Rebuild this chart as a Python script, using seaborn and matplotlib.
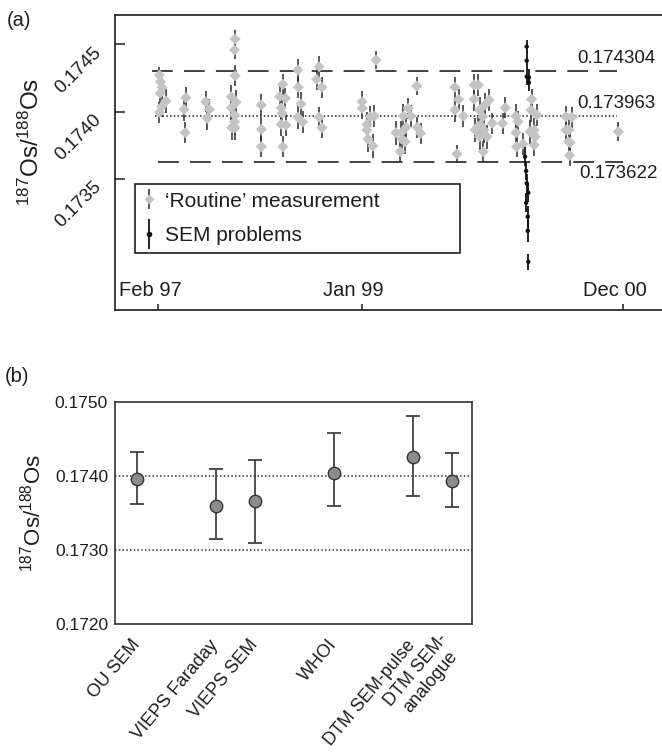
import numpy as np
import pandas as pd
import matplotlib
matplotlib.use("Agg")
import matplotlib.pyplot as plt
import seaborn as sns
from matplotlib.lines import Line2D
from matplotlib.legend_handler import HandlerTuple

# ---------------- Panel (a) data ----------------
routine_x = [8.3, 8.5, 8.8, 8.4, 9.5, 8.7, 8.3,
             13.2, 12.9, 13.1,
             16.9, 17.6, 17.2,
             22.4, 22.3, 22.4, 21.7, 22.6, 21.7, 22.3, 22.3, 21.8, 22.4,
             27.3, 27.3, 27.3,
             31.3, 30.7, 31.8, 31.0, 31.2, 31.0, 31.9, 31.3,
             34.1, 34.2, 34.7, 34.1, 35.0,
             38.1, 37.6, 38.6, 38.1, 38.6,
             48.7, 46.1, 46.1, 47.0, 47.0, 47.2, 48.1, 47.6, 48.4,
             52.4, 53.4, 53.2, 53.5, 53.8, 54.3, 54.7, 55.2, 56.3, 56.4, 57.0, 54.1,
             63.4, 64.1, 63.4, 65.0, 63.8,
             67.0, 67.8, 67.0, 68.0, 67.2, 68.2, 68.6, 69.0, 69.8, 68.8, 69.4, 68.7, 70.4, 68.0, 67.7,
             72.3, 72.8, 74.8, 75.2, 74.8, 74.9, 76.1,
             77.7, 77.6, 77.4, 78.2, 78.7, 78.2, 78.4,
             84.1, 85.2, 84.1, 84.7, 84.9, 84.8, 84.6,
             93.9]
routine_y = [0.174272, 0.174222, 0.174178, 0.174136, 0.174078, 0.174036, 0.173994,
             0.174103, 0.174016, 0.173842,
             0.174073, 0.174016, 0.173949,
             0.174541, 0.174459, 0.174267, 0.174110, 0.174069, 0.174028, 0.173974, 0.173924, 0.173879, 0.173879,
             0.174049, 0.173867, 0.173737,
             0.174203, 0.174110, 0.174099, 0.174028, 0.173987, 0.173904, 0.173899, 0.173737,
             0.174310, 0.174181, 0.174056, 0.173957, 0.173922,
             0.174334, 0.174240, 0.174181, 0.173957, 0.173879,
             0.174384, 0.174073, 0.174024, 0.173904, 0.173862, 0.173795, 0.173743, 0.173961, 0.173966,
             0.173842, 0.173842, 0.173700, 0.173793, 0.173966, 0.173882, 0.174024, 0.173966, 0.174190, 0.173882, 0.173837, 0.173775,
             0.174181, 0.174091, 0.174011, 0.173966, 0.173683,
             0.174198, 0.174198, 0.174091, 0.174011, 0.173862, 0.173899, 0.173961, 0.174049, 0.174086, 0.173862, 0.173812, 0.173700, 0.173912, 0.173812, 0.173887,
             0.173912, 0.174028, 0.173966, 0.173924, 0.173842, 0.173737, 0.173757,
             0.174091, 0.174011, 0.173849, 0.173862, 0.173974, 0.173750, 0.173812,
             0.173961, 0.173957, 0.173862, 0.173862, 0.173767, 0.173673, 0.173775,
             0.173849]
routine_err = [0.00006, 0.00007, 0.00007, 0.00008, 0.00009, 0.00008, 0.00008,
               0.00008, 0.00009, 0.00008,
               0.00008, 0.00008, 0.00009,
               0.00007, 0.00007, 0.00008, 0.00009, 0.00009, 0.00009, 0.00010, 0.00010, 0.00009, 0.00009,
               0.00008, 0.00009, 0.00008,
               0.00008, 0.00009, 0.00008, 0.00010, 0.00009, 0.00009, 0.00008, 0.00008,
               0.00008, 0.00008, 0.00009, 0.00009, 0.00008,
               0.00008, 0.00008, 0.00008, 0.00008, 0.00008,
               0.00007, 0.00008, 0.00008, 0.00009, 0.00009, 0.00010, 0.00009, 0.00008, 0.00008,
               0.00009, 0.00009, 0.00008, 0.00010, 0.00009, 0.00009, 0.00008, 0.00008, 0.00007, 0.00008, 0.00008, 0.00009,
               0.00008, 0.00008, 0.00009, 0.00008, 0.00007,
               0.00008, 0.00008, 0.00009, 0.00010, 0.00009, 0.00009, 0.00010, 0.00009, 0.00008, 0.00010, 0.00009, 0.00008, 0.00008, 0.00010, 0.00009,
               0.00008, 0.00008, 0.00009, 0.00008, 0.00009, 0.00008, 0.00008,
               0.00008, 0.00009, 0.00009, 0.00009, 0.00008, 0.00008, 0.00009,
               0.00008, 0.00008, 0.00009, 0.00009, 0.00009, 0.00008, 0.00009,
               0.00007]
sem_x = [76.8, 76.8, 76.8, 77.2, 77.2, 76.5, 76.7, 76.8, 77.1, 76.7, 77.0, 77.0, 77.1]
sem_y = [0.174484, 0.174379, 0.174260, 0.174255, 0.174215, 0.173663, 0.173556,
         0.173464, 0.173394, 0.173319, 0.173215, 0.173110, 0.172879]
sem_err = [0.00005, 0.00007, 0.00006, 0.00006, 0.00006, 0.00007, 0.00007,
           0.00007, 0.00007, 0.00007, 0.00008, 0.00008, 0.00006]

ref_values = [0.174304, 0.173963, 0.173622]
ref_labels = ["0.174304", "0.173963", "0.173622"]
date_ticks = [8.08, 46.03, 94.72]
date_labels = ["Feb 97", "Jan 99", "Dec 00"]
a_yticks = [0.1745, 0.1740, 0.1735]
a_yticklabels = ["0.1745", "0.1740", "0.1735"]

# ---------------- Panel (b) data ----------------
labs = ["OU SEM", "VIEPS Faraday", "VIEPS SEM", "WHOI", "DTM SEM-pulse", "DTM SEM-\nanalogue"]
lab_vals = [0.173964, 0.173600, 0.173668, 0.174046, 0.174253, 0.173932]
lab_err_lo = [0.000347, 0.000455, 0.000573, 0.000455, 0.000523, 0.000346]
lab_err_hi = [0.000359, 0.000500, 0.000554, 0.000540, 0.000558, 0.000384]
b_yticks = [0.1720, 0.1730, 0.1740, 0.1750]
b_yticklabels = ["0.1720", "0.1730", "0.1740", "0.1750"]
b_guides = [0.1740, 0.1730]

# layout
lab_pos = [1, 3, 4, 6, 8, 9]

sns.set_theme(style="white")
plt.rcParams["font.family"] = ["Liberation Sans", "DejaVu Sans"]
plt.rcParams["mathtext.default"] = "regular"
plt.rcParams["lines.scale_dashes"] = False

W, H = 662, 755
fig = plt.figure(figsize=(W / 100, H / 100), dpi=100)
ax1 = fig.add_axes([115 / W, 1 - 310 / H, 550 / W, 295 / H])
ax2 = fig.add_axes([115 / W, 1 - 624 / H, 357 / W, 222 / H])

ink = "#1e1e1e"

# ---------- Panel (a) ----------
df_r = pd.DataFrame({"x": routine_x, "y": routine_y, "e": routine_err})
df_s = pd.DataFrame({"x": sem_x, "y": sem_y, "e": sem_err})

ax1.errorbar(df_r["x"], df_r["y"], yerr=df_r["e"], fmt="none", ecolor="#2a2a2a",
             elinewidth=1.1, zorder=2)
sns.scatterplot(data=df_r, x="x", y="y", ax=ax1, marker="D", s=32, color="#c4c4c4",
                edgecolor="none", linewidth=0, zorder=3, legend=False)
ax1.errorbar(df_s["x"], df_s["y"], yerr=df_s["e"], fmt="none", ecolor="#111111",
             elinewidth=1.3, zorder=4)
sns.scatterplot(data=df_s, x="x", y="y", ax=ax1, marker="o", s=10, color="#111111",
                edgecolor="none", linewidth=0, zorder=5, legend=False)

ax1.plot([6.9, 93.7], [ref_values[0]] * 2, color="#333333", lw=1.3, dashes=(15, 8), zorder=1)
ax1.plot([7.5, 93.7], [ref_values[1]] * 2, color="#333333", lw=1.2, dashes=(1.1, 1.6), zorder=1)
ax1.plot([8.0, 94.8], [ref_values[2]] * 2, color="#333333", lw=1.3, dashes=(15, 8), zorder=1)

ax1.annotate(ref_labels[0], xy=(86.2, ref_values[0]), xytext=(0, 3), textcoords="offset points",
             ha="left", va="bottom", fontsize=13.5, color=ink)
ax1.annotate(ref_labels[1], xy=(86.2, ref_values[1]), xytext=(0, 3), textcoords="offset points",
             ha="left", va="bottom", fontsize=13.5, color=ink)
ax1.annotate(ref_labels[2], xy=(86.6, ref_values[2]), xytext=(0, -2), textcoords="offset points",
             ha="left", va="top", fontsize=13.5, color=ink)

ax1.set_xlim(0, 102.6)
ax1.set_ylim(0.172519, 0.17472)
ax1.set_xticks(date_ticks)
ax1.set_xticklabels([])
for pos, lab in zip(date_ticks, date_labels):
    ax1.annotate(lab, xy=(pos, 0), xycoords=("data", "axes fraction"), xytext=(-6, 14),
                 textcoords="offset points", ha="center", va="center", fontsize=14.5, color=ink)
ax1.set_yticks(a_yticks)
ax1.set_yticklabels(a_yticklabels, rotation=45, ha="right", va="top",
                    rotation_mode="anchor", fontsize=13.5, color=ink)
ax1.tick_params(axis="y", direction="in", length=7, width=1.1, color=ink, pad=16, left=True)
ax1.tick_params(axis="x", direction="in", length=4.5, width=1.1, color=ink, bottom=True)
for side in ["left", "top", "bottom"]:
    ax1.spines[side].set_color(ink)
    ax1.spines[side].set_linewidth(1.2)
ax1.spines["right"].set_visible(False)
ax1.set_xlabel("")
ax1.set_ylabel(r"$^{187}$Os/$^{188}$Os", fontsize=17.5, color=ink)
ax1.yaxis.set_label_coords(-0.13, 0.57)

h_routine = (Line2D([], [], marker="|", ms=15, mew=1.1, color="#2a2a2a", ls="none"),
             Line2D([], [], marker="D", ms=5.5, color="#c4c4c4", mec="none", ls="none"))
h_sem = (Line2D([], [], marker="|", ms=22, mew=1.3, color="#111111", ls="none"),
         Line2D([], [], marker="o", ms=3, color="#111111", ls="none"))
leg = ax1.legend([h_routine, h_sem], ["\u2018Routine\u2019 measurement", "SEM problems"],
                 handler_map={tuple: HandlerTuple(ndivide=1)},
                 bbox_to_anchor=(0.0364, 0.18, 0.591, 0.261), loc="center left", mode="expand",
                 fontsize=15, frameon=True, fancybox=False, framealpha=1, edgecolor=ink,
                 handlelength=0.6, handletextpad=0.45, borderpad=0.38, labelspacing=0.75,
                 borderaxespad=0)
leg.get_frame().set_linewidth(1.2)
for t in leg.get_texts():
    t.set_color(ink)

# ---------- Panel (b) ----------
df_b = pd.DataFrame({"lab": labs, "pos": lab_pos, "val": lab_vals,
                     "lo": lab_err_lo, "hi": lab_err_hi})
for g in b_guides:
    ax2.axhline(g, color="#333333", lw=1.1, dashes=(1.1, 1.6), zorder=1)
ax2.errorbar(df_b["pos"], df_b["val"], yerr=[df_b["lo"], df_b["hi"]], fmt="none",
             ecolor="#333333", elinewidth=1.2, capsize=5, capthick=1.2, zorder=2)
sns.scatterplot(data=df_b, x="pos", y="val", ax=ax2, marker="o", s=80, color="#8c8c8c",
                edgecolor="#333333", linewidth=1.0, zorder=3, legend=False)
ax2.set_xlim(0.44, 9.51)
ax2.set_ylim(0.1720, 0.1750)
ax2.set_yticks(b_yticks)
ax2.set_yticklabels(b_yticklabels, fontsize=12.5, color=ink)
ax2.set_xticks(lab_pos)
ax2.set_xticklabels(labs, rotation=50, ha="right", va="center", rotation_mode="anchor",
                    fontsize=13, color=ink, multialignment="center")
ax2.tick_params(axis="y", length=0, pad=5)
ax2.tick_params(axis="x", length=0, pad=13)
for side in ["left", "top", "bottom", "right"]:
    ax2.spines[side].set_color("#333333")
    ax2.spines[side].set_linewidth(1.2)
ax2.set_xlabel("")
ax2.set_ylabel(r"$^{187}$Os/$^{188}$Os", fontsize=16, color=ink)
ax2.yaxis.set_label_coords(-0.195, 0.5)

fig.text(7 / W, 1 - 20 / H, "(a)", ha="left", va="center", fontsize=14.5, color=ink)
fig.text(5 / W, 1 - 377 / H, "(b)", ha="left", va="center", fontsize=14.5, color=ink)

fig.savefig("out.png", dpi=100)
